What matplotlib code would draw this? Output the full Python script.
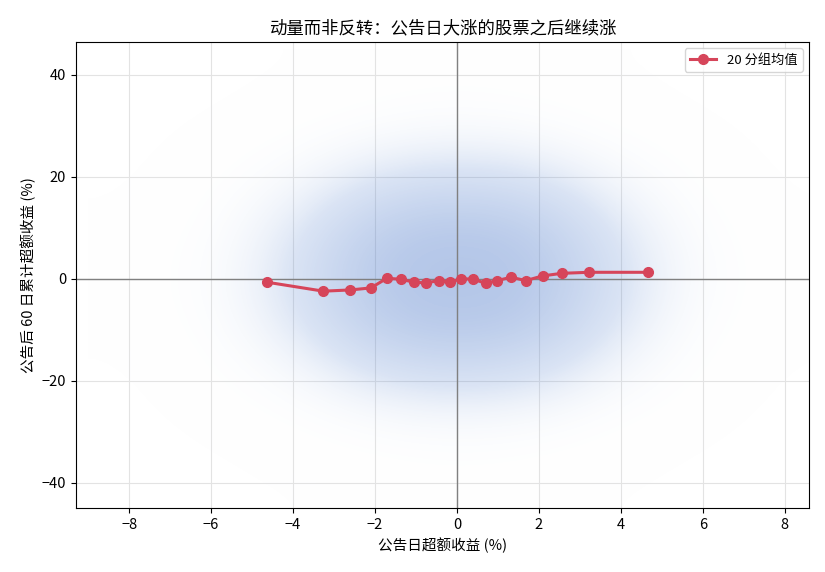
import numpy as np
import matplotlib
matplotlib.use("Agg")
import matplotlib.pyplot as plt
from matplotlib.colors import LinearSegmentedColormap

plt.rcParams['font.family'] = ['Noto Sans CJK SC', 'DejaVu Sans']
plt.rcParams['axes.unicode_minus'] = True

# 20 分组均值
bin_x = [-4.63, -3.26, -2.60, -2.10, -1.71, -1.36, -1.05, -0.75, -0.45, -0.17,
         0.10, 0.40, 0.70, 0.98, 1.32, 1.68, 2.09, 2.56, 3.22, 4.67]
bin_y = [-0.65, -2.40, -2.16, -1.76, 0.13, -0.07, -0.65, -0.78, -0.33, -0.65,
         0.07, -0.07, -0.85, -0.33, 0.33, -0.33, 0.59, 1.10, 1.30, 1.30]

# relative point density of the scatter cloud
dens_x = [-8, -6, -4, -2, 0, 2, 4, 6, 8]
dens_y = [40, 30, 20, 10, 0, -10, -20, -30, -40]
density = [
    [0.00, 0.00, 0.01, 0.03, 0.05, 0.03, 0.01, 0.00, 0.00],
    [0.00, 0.01, 0.05, 0.14, 0.20, 0.15, 0.05, 0.01, 0.00],
    [0.00, 0.05, 0.22, 0.50, 0.60, 0.52, 0.24, 0.05, 0.00],
    [0.02, 0.10, 0.45, 0.85, 0.95, 0.86, 0.46, 0.11, 0.02],
    [0.03, 0.14, 0.55, 0.95, 1.00, 0.96, 0.56, 0.15, 0.03],
    [0.02, 0.10, 0.44, 0.84, 0.94, 0.85, 0.45, 0.10, 0.02],
    [0.00, 0.05, 0.20, 0.48, 0.58, 0.50, 0.22, 0.05, 0.00],
    [0.00, 0.01, 0.05, 0.13, 0.18, 0.14, 0.05, 0.01, 0.00],
    [0.00, 0.00, 0.01, 0.02, 0.04, 0.02, 0.01, 0.00, 0.00],
]

fig = plt.figure(figsize=(8.25, 5.72), dpi=100)
ax = fig.add_axes([0.092, 0.112, 0.889, 0.815])

cloud = LinearSegmentedColormap.from_list(
    "cloud", [(1, 1, 1, 0), (0.36, 0.53, 0.82, 0.22), (0.27, 0.45, 0.78, 0.42)])
dx = (dens_x[1] - dens_x[0]) / 2
dy = (dens_y[0] - dens_y[1]) / 2
ax.imshow(np.array(density), cmap=cloud, vmin=0, vmax=1,
          extent=[dens_x[0] - dx, dens_x[-1] + dx, dens_y[-1] - dy, dens_y[0] + dy],
          aspect='auto', interpolation='bicubic', zorder=1)

ax.axhline(0, color='#808080', lw=1, zorder=2)
ax.axvline(0, color='#808080', lw=1, zorder=2)

ax.plot(bin_x, bin_y, color='#d6455a', lw=2.2, marker='o', ms=7,
        label='20 分组均值', zorder=3)

ax.set_xlim(-9.3, 8.6)
ax.set_ylim(-44.9, 46.5)
ax.set_xticks([-8, -6, -4, -2, 0, 2, 4, 6, 8])
ax.set_yticks([-40, -20, 0, 20, 40])
ax.grid(True, color='#e3e3e3', lw=0.8, zorder=0)
ax.set_axisbelow(True)
ax.tick_params(labelsize=10.5)

ax.set_title('动量而非反转：公告日大涨的股票之后继续涨', fontsize=12.5)
ax.set_xlabel('公告日超额收益 (%)', fontsize=10.5)
ax.set_ylabel('公告后 60 日累计超额收益 (%)', fontsize=10.5)
ax.legend(loc='upper right', fontsize=9.5)

fig.savefig('out.png', dpi=100)
